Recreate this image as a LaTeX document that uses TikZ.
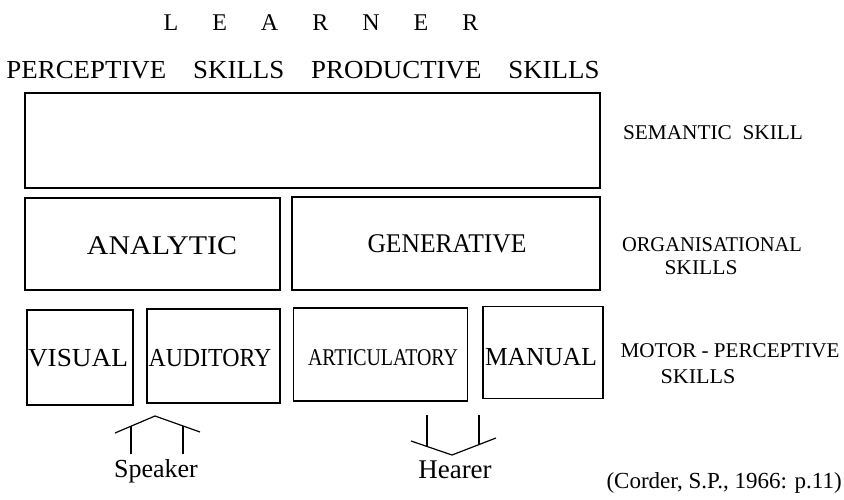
\documentclass[tikz,border=0pt]{standalone}
\usepackage{fontspec}
\setmainfont{Liberation Serif}
\usepackage{graphicx}
\newcommand\fitw[3]{\resizebox{#2pt}{\height}{\fontsize{#1}{#1}\selectfont #3}}
\newcommand\fs[2]{{\fontsize{#1}{#1}\selectfont #2}}
\begin{document}
\begin{tikzpicture}[x=1pt,y=-1pt,
  box/.style={draw, line width=1.2pt, inner sep=0pt},
  lbl/.style={inner sep=0pt},
  stroke/.style={line width=1.2pt}]
\useasboundingbox (0,0) rectangle (844,499);
% title
\node[lbl] (title) at (321,23) {\fs{24}{L\hspace{34pt}E\hspace{34pt}A\hspace{34pt}R\hspace{34pt}N\hspace{34pt}E\hspace{34pt}R}};
\node[lbl] (heads) at (303,70) {\fitw{26}{593}{PERCEPTIVE\hspace{1em}SKILLS\hspace{1em}PRODUCTIVE\hspace{1em}SKILLS}};
% boxes
\node[box, minimum width=575pt, minimum height=95pt] (sem) at (312.5,140.5) {};
\node[box, minimum width=255pt, minimum height=92pt] (ana) at (152.5,244) {};
\node[box, minimum width=308pt, minimum height=93pt] (gen) at (446,243.5) {};
\node[box, minimum width=106pt, minimum height=95pt] (vis) at (80,357.5) {};
\node[box, minimum width=133pt, minimum height=94pt] (aud) at (213.5,356) {};
\node[box, minimum width=174pt, minimum height=93pt] (art) at (380.5,354.5) {};
\node[box, minimum width=120pt, minimum height=92pt] (man) at (543,352.5) {};
% box labels
\node[lbl] (anat) at (162,246) {\fitw{27}{150}{ANALYTIC}};
\node[lbl] (gent) at (447,244) {\fitw{27}{159}{GENERATIVE}};
\node[lbl] (vist) at (78,358) {\fitw{26}{100}{VISUAL}};
\node[lbl] (audt) at (210,358) {\fitw{26}{123}{AUDITORY}};
\node[lbl] (artt) at (383,358) {\fitw{24}{150}{ARTICULATORY}};
\node[lbl] (mant) at (541,357) {\fitw{26}{112}{MANUAL}};
% right labels
\node[lbl] (semt) at (713,133) {\fitw{21}{180}{SEMANTIC\hspace{0.5em}SKILL}};
\node[lbl] (orgt) at (712,245) {\fitw{21}{180}{ORGANISATIONAL}};
\node[lbl] (orgs) at (701,268) {\fitw{21}{73}{SKILLS}};
\node[lbl] (mott) at (730,351) {\fitw{21}{219}{MOTOR - PERCEPTIVE}};
\node[lbl] (mots) at (698,377) {\fitw{21}{75}{SKILLS}};
% speaker roof
\coordinate (spL) at (115,433);
\coordinate (spP) at (155,416);
\coordinate (spR) at (200,432);
\coordinate (spa) at (131,426.2);
\coordinate (spa2) at (131,454);
\coordinate (spb) at (183,426);
\coordinate (spb2) at (183,454);
\draw[stroke] (spL) -- (spP) -- (spR);
\draw[stroke] (spa) -- (spa2);
\draw[stroke] (spb) -- (spb2);
\node[lbl, anchor=base] (spk) at (156,477) {\fs{26}{Speaker}};
% hearer
\coordinate (hrL) at (411,441);
\coordinate (hrV) at (452,455);
\coordinate (hrR) at (496,438);
\coordinate (hra) at (427,415);
\coordinate (hra2) at (427,446.5);
\coordinate (hrb) at (479,415);
\coordinate (hrb2) at (479,444.6);
\draw[stroke] (hrL) -- (hrV) -- (hrR);
\draw[stroke] (hra) -- (hra2);
\draw[stroke] (hrb) -- (hrb2);
\node[lbl, anchor=base] (hrt) at (455,478) {\fs{27}{Hearer}};
% citation
\node[lbl, anchor=base east] (cite) at (842,488) {\fs{23}{(Corder, S.P., 1966: p.11)}};
\end{tikzpicture}
\end{document}
